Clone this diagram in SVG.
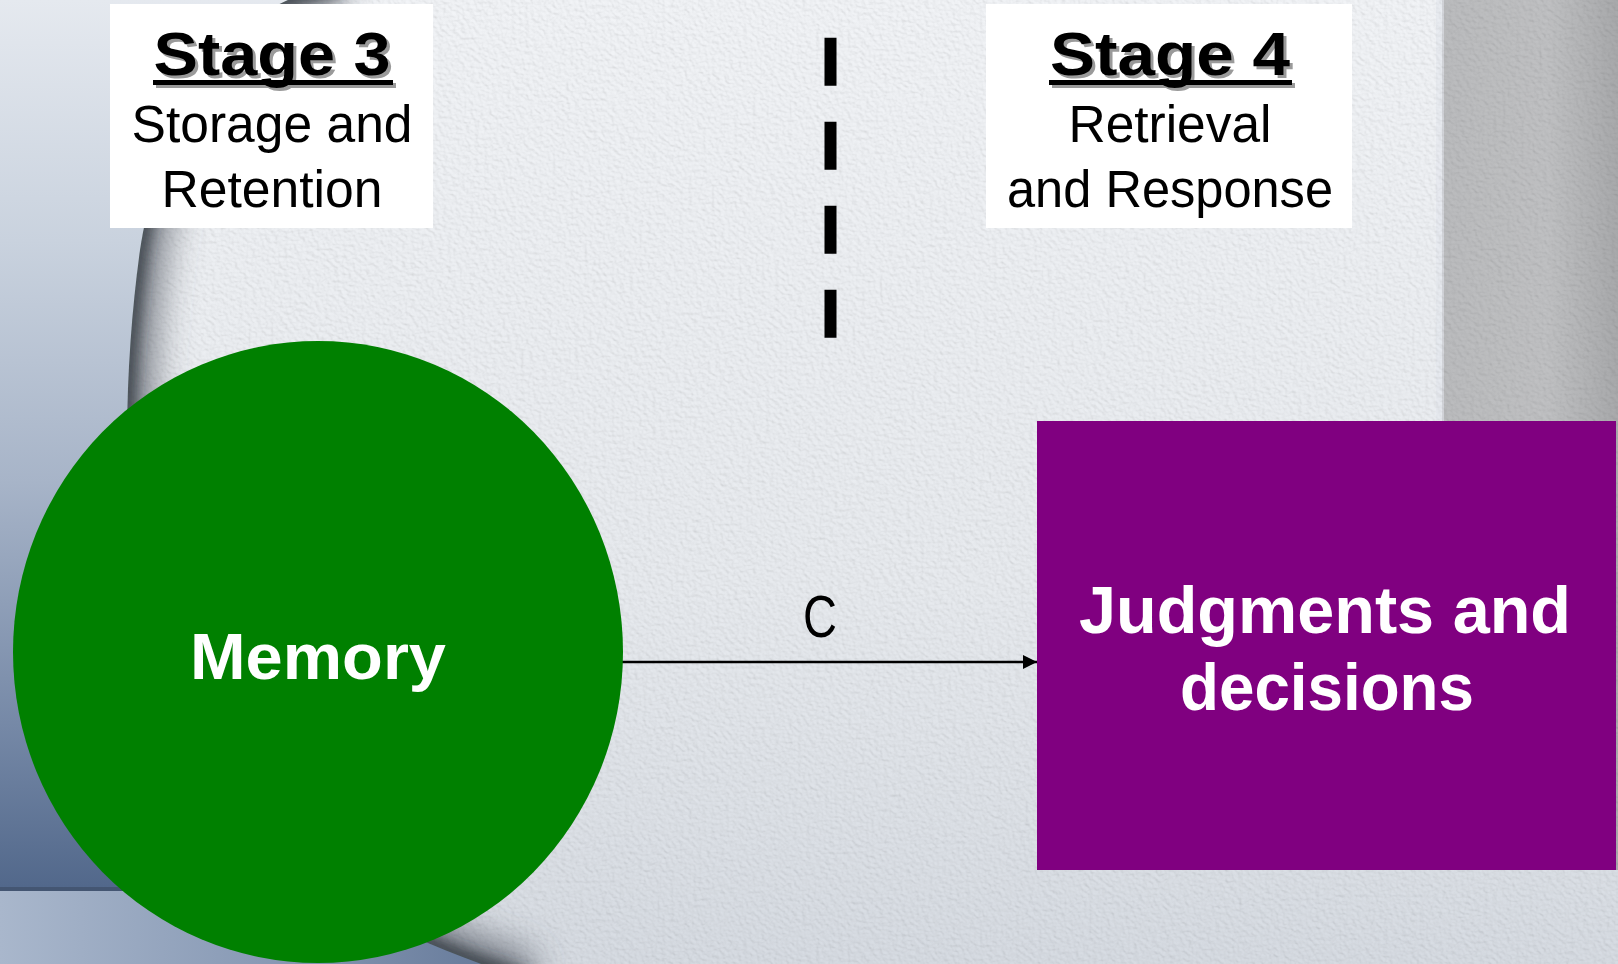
<svg xmlns="http://www.w3.org/2000/svg" width="1618" height="964" viewBox="0 0 1618 964">
<style>
.lbl{font-family:"Liberation Sans",Arial,sans-serif;fill:#000}
.stage{font-family:"Liberation Sans",Arial,sans-serif;font-weight:bold;font-size:62px}
.sub{font-family:"Liberation Sans",Arial,sans-serif;font-size:51px;fill:#000}
.nodetxt{font-family:"Liberation Sans",Arial,sans-serif;font-weight:bold;fill:#fff}
.box{fill:#fff}
</style>
<defs>
<linearGradient id="bgLeft" x1="0" y1="0" x2="0" y2="1">
<stop offset="0" stop-color="#e5e9ef"/>
<stop offset="0.25" stop-color="#c9d2de"/>
<stop offset="0.5" stop-color="#a7b4c8"/>
<stop offset="0.75" stop-color="#7689a7"/>
<stop offset="0.92" stop-color="#52688b"/>
<stop offset="1" stop-color="#4a5f82"/>
</linearGradient>
<linearGradient id="bgLow" x1="0" y1="0" x2="1" y2="0">
<stop offset="0" stop-color="#a9b7cc"/>
<stop offset="0.5" stop-color="#8496b2"/>
<stop offset="1" stop-color="#566b8d"/>
</linearGradient>
<linearGradient id="paperG" x1="0" y1="0" x2="0" y2="1">
<stop offset="0" stop-color="#f2f4f7"/>
<stop offset="0.6" stop-color="#e8ebef"/>
<stop offset="1" stop-color="#d6dbe2"/>
</linearGradient>
<linearGradient id="stripG" x1="0" y1="0" x2="1" y2="0">
<stop offset="0" stop-color="#bbbcbe"/>
<stop offset="0.6" stop-color="#c0c1c3"/>
<stop offset="1" stop-color="#a9aaac"/>
</linearGradient>
<filter id="emboss" x="0" y="0" width="100%" height="100%">
<feTurbulence type="fractalNoise" baseFrequency="0.22 0.28" numOctaves="2" seed="5" result="n"/>
<feDiffuseLighting in="n" surfaceScale="1.5" diffuseConstant="1" lighting-color="#ffffff">
<feDistantLight azimuth="135" elevation="60"/>
</feDiffuseLighting>
</filter>
<filter id="blur8" x="-20%" y="-20%" width="140%" height="140%">
<feGaussianBlur stdDeviation="7"/>
</filter>
<filter id="blur20" x="-20%" y="-20%" width="140%" height="140%">
<feGaussianBlur stdDeviation="18"/>
</filter>
<clipPath id="paperClip">
<path d="M 340,-12 C 230,-8 160,120 140,250 C 122,380 118,560 160,680 C 210,820 330,920 530,980 L 1618,980 L 1618,-12 Z"/>
</clipPath>
<marker id="arrow" viewBox="0 0 14 14" refX="14" refY="7" markerWidth="14" markerHeight="14" markerUnits="userSpaceOnUse" orient="auto">
<path d="M0,0 L14,7 L0,14 Z" fill="#000"/>
</marker>
</defs>

<g id="background">
<rect x="0" y="0" width="1618" height="964" fill="url(#bgLeft)"/>
<rect x="0" y="891" width="600" height="73" fill="url(#bgLow)"/>
<rect x="0" y="887" width="600" height="4" fill="#3e4e68" opacity="0.7"/>
<g clip-path="url(#paperClip)">
<rect x="0" y="-12" width="1618" height="992" fill="url(#paperG)"/>
<rect x="1442" y="0" width="176" height="870" fill="url(#stripG)"/>
<rect x="1436" y="0" width="8" height="870" fill="#e4e8ee" opacity="0.6"/>
<rect x="0" y="0" width="1618" height="964" filter="url(#emboss)" style="mix-blend-mode:multiply" opacity="0.3"/>
<path d="M 340,-12 C 230,-8 160,120 140,250 C 122,380 118,560 160,680 C 210,820 330,920 530,980" fill="none" stroke="#4a505a" stroke-width="50" filter="url(#blur20)" opacity="0.7"/>
<path d="M 340,-12 C 230,-8 160,120 140,250 C 122,380 118,560 160,680 C 210,820 330,920 530,980" fill="none" stroke="#2b3039" stroke-width="14" filter="url(#blur8)" opacity="0.85"/>
</g>
</g>

<g id="connectors">
<line x1="622" y1="662" x2="1037" y2="662" stroke="#000" stroke-width="2.5" marker-end="url(#arrow)"/>
<text class="lbl" x="820" y="637" font-size="60" text-anchor="middle" textLength="34" lengthAdjust="spacingAndGlyphs">C</text>
</g>

<g id="divider">
<line x1="830.5" y1="37.7" x2="830.5" y2="340" stroke="#000" stroke-width="12" stroke-dasharray="48 36"/>
</g>

<g id="stage3">
<rect class="box" x="110" y="4" width="323" height="224"/>
<text class="stage" x="275" y="78" fill="#9a9a9a" text-anchor="middle" textLength="237" lengthAdjust="spacingAndGlyphs">Stage 3</text>
<rect x="156" y="83" width="240" height="5" fill="#9a9a9a"/>
<text class="stage" x="272" y="75" fill="#000" text-anchor="middle" textLength="237" lengthAdjust="spacingAndGlyphs">Stage 3</text>
<rect x="153" y="80" width="240" height="5" fill="#000"/>
<text class="sub" x="272" y="142" text-anchor="middle" textLength="281" lengthAdjust="spacingAndGlyphs">Storage and</text>
<text class="sub" x="272" y="207" text-anchor="middle" textLength="221" lengthAdjust="spacingAndGlyphs">Retention</text>
</g>

<g id="stage4">
<rect class="box" x="986" y="4" width="366" height="224"/>
<text class="stage" x="1173" y="78" fill="#9a9a9a" text-anchor="middle" textLength="240" lengthAdjust="spacingAndGlyphs">Stage 4</text>
<rect x="1052" y="83" width="243" height="5" fill="#9a9a9a"/>
<text class="stage" x="1170" y="75" fill="#000" text-anchor="middle" textLength="240" lengthAdjust="spacingAndGlyphs">Stage 4</text>
<rect x="1049" y="80" width="243" height="5" fill="#000"/>
<text class="sub" x="1170" y="142" text-anchor="middle" textLength="203" lengthAdjust="spacingAndGlyphs">Retrieval</text>
<text class="sub" x="1170" y="207" text-anchor="middle" textLength="326" lengthAdjust="spacingAndGlyphs">and Response</text>
</g>

<g id="memory">
<ellipse cx="318" cy="652" rx="305" ry="311" fill="#008000"/>
<text class="nodetxt" x="318" y="679" font-size="64" text-anchor="middle" textLength="256" lengthAdjust="spacingAndGlyphs">Memory</text>
</g>

<g id="judgments">
<rect x="1037" y="421" width="579" height="449" fill="#800080"/>
<text class="nodetxt" x="1325" y="633" font-size="66" text-anchor="middle" textLength="492" lengthAdjust="spacingAndGlyphs">Judgments and</text>
<text class="nodetxt" x="1327" y="710" font-size="66" text-anchor="middle" textLength="294" lengthAdjust="spacingAndGlyphs">decisions</text>
</g>
</svg>
